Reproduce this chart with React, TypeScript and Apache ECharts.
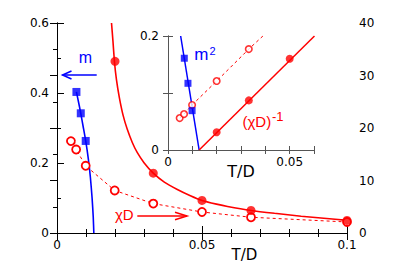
import React, { useEffect, useRef } from "react";
import * as echarts from "echarts";

// ---- main panel data ----
const mT = [0.0067, 0.0082, 0.0099];
const mVal = [0.403, 0.342, 0.263];
const mFitT = [0.0067, 0.0074, 0.0082, 0.009, 0.0099, 0.0108, 0.0115, 0.0121, 0.0125, 0.0127];
const mFitVal = [0.403, 0.375, 0.342, 0.305, 0.263, 0.212, 0.16, 0.1, 0.045, 0];

const chiT = [0.02, 0.0332, 0.05, 0.0669, 0.1];
const chiVal = [32.7, 11.4, 6.2, 4.3, 2.4];
const chiFitT = [
  0.0188, 0.0193, 0.0198, 0.0205, 0.0215, 0.0228, 0.0242, 0.026, 0.0277, 0.03, 0.0332,
  0.037, 0.0415, 0.046, 0.05, 0.055, 0.0588, 0.0669, 0.075, 0.0842, 0.092, 0.1,
];
const chiFitVal = [
  40, 36.5, 32.7, 29.2, 25.8, 22.4, 19.8, 17.2, 15.3, 13.4, 11.4,
  9.7, 8.3, 7.1, 6.2, 5.5, 5.05, 4.3, 3.75, 3.2, 2.8, 2.4,
];

const chiOpenT = [0.0048, 0.0066, 0.0099, 0.0199, 0.0332, 0.05, 0.0669, 0.1];
const chiOpenVal = [17.5, 15.9, 12.8, 8.1, 5.6, 4.0, 3.0, 2.1];

// ---- inset data ----
const m2T = [0.0067, 0.0082, 0.0099];
const m2Val = [0.161, 0.117, 0.069];
const m2FitT = [0.0052, 0.0128];
const m2FitVal = [0.2, 0];

const invT = [0.02, 0.0332, 0.05];
const invVal = [0.031, 0.087, 0.16];
const invFitT = [0.0128, 0.0602];
const invFitVal = [0, 0.2];

const invOpenT = [0.0048, 0.0066, 0.0099, 0.02, 0.0332];
const invOpenVal = [0.056, 0.063, 0.079, 0.121, 0.177];
const invOpenLineT = [0.0048, 0.0066, 0.0099, 0.02, 0.0332, 0.039];
const invOpenLineVal = [0.056, 0.063, 0.079, 0.121, 0.177, 0.2];

// tick labels
const mainXLabels = ["0", "0.05", "0.1"];
const insetXLabels = ["0", "0.05"];
const insetYLabels = ["0", "0.2"];

const RED = "#ff0000";
const BLUE = "#0000ff";
const TICK_FONT = "DejaVu Sans";

const zip = (xs: number[], ys: number[]) => xs.map((x, i) => [x, ys[i]]);

function labelPicker(list: string[]) {
  return (v: number) => {
    for (const s of list) {
      if (Math.abs(v - parseFloat(s)) < 1e-6) return s;
    }
    return "";
  };
}

export default function App() {
  const ref = useRef<HTMLDivElement>(null);

  useEffect(() => {
    if (!ref.current) return;
    const chart = echarts.init(ref.current, undefined, { renderer: "svg" });

    const axisBase = (color: string) => ({
      type: "value" as const,
      axisLine: { show: true, lineStyle: { color, width: 1 } },
      splitLine: { show: false },
      minorSplitLine: { show: false },
      axisLabel: { fontFamily: TICK_FONT, fontSize: 12, color: "#000" },
    });

    const option: any = {
      animation: false,
      backgroundColor: "#fff",
      grid: [
        { left: 57, top: 23, right: 68, bottom: 44, show: false },
        {
          left: 168,
          top: 36,
          right: 101,
          bottom: 127,
          show: true,
          backgroundColor: "#fff",
          borderWidth: 0,
          z: 5,
        },
      ],
      xAxis: [
        {
          ...axisBase("#000"),
          gridIndex: 0,
          position: "bottom",
          min: 0,
          max: 0.1,
          interval: 0.05,
          axisTick: { show: true, inside: true, length: 7, lineStyle: { color: "#000" } },
          minorTick: { show: true, splitNumber: 5, length: 4, lineStyle: { color: "#000" } },
          axisLabel: {
            fontFamily: TICK_FONT,
            fontSize: 12,
            color: "#000",
            margin: 6,
            formatter: labelPicker(mainXLabels),
          },
        },
        {
          ...axisBase("#000"),
          gridIndex: 0,
          position: "top",
          min: 0,
          max: 0.1,
          interval: 0.05,
          axisTick: { show: true, inside: true, length: 7, lineStyle: { color: "#000" } },
          minorTick: { show: true, splitNumber: 5, length: 4, lineStyle: { color: "#000" } },
          axisLabel: { show: false },
        },
        {
          ...axisBase("#555"),
          gridIndex: 1,
          position: "bottom",
          min: 0,
          max: 0.06,
          interval: 0.01,
          z: 6,
          axisTick: { show: true, inside: true, length: 4, lineStyle: { color: "#555" } },
          axisLabel: {
            fontFamily: TICK_FONT,
            fontSize: 12,
            color: "#000",
            margin: 6,
            formatter: labelPicker(insetXLabels),
          },
        },
        {
          ...axisBase("#555"),
          gridIndex: 1,
          position: "top",
          min: 0,
          max: 0.06,
          interval: 0.01,
          z: 6,
          axisTick: { show: true, inside: true, length: 4, lineStyle: { color: "#555" } },
          axisLabel: { show: false },
        },
      ],
      yAxis: [
        {
          ...axisBase("#000"),
          gridIndex: 0,
          position: "left",
          min: 0,
          max: 0.6,
          interval: 0.2,
          axisTick: { show: true, inside: true, length: 7, lineStyle: { color: "#000" } },
          minorTick: { show: true, splitNumber: 2, length: 4, lineStyle: { color: "#000" } },
          axisLabel: { fontFamily: TICK_FONT, fontSize: 12, color: "#000", margin: 8 },
        },
        {
          ...axisBase("#000"),
          gridIndex: 0,
          position: "right",
          min: 0,
          max: 40,
          interval: 10,
          axisTick: { show: true, inside: true, length: 7, lineStyle: { color: "#000" } },
          minorTick: { show: true, splitNumber: 2, length: 4, lineStyle: { color: "#000" } },
          axisLabel: { fontFamily: TICK_FONT, fontSize: 12, color: "#000", margin: 12 },
        },
        {
          ...axisBase("#555"),
          gridIndex: 1,
          position: "left",
          min: 0,
          max: 0.2,
          interval: 0.1,
          z: 6,
          axisTick: { show: true, inside: true, length: 5, lineStyle: { color: "#555" } },
          axisLabel: {
            fontFamily: TICK_FONT,
            fontSize: 12,
            color: "#000",
            margin: 9,
            formatter: labelPicker(insetYLabels),
          },
        },
        {
          ...axisBase("#555"),
          gridIndex: 1,
          position: "right",
          min: 0,
          max: 0.2,
          interval: 0.1,
          z: 6,
          axisTick: { show: true, inside: true, length: 5, lineStyle: { color: "#555" } },
          axisLabel: { show: false },
        },
      ],
      series: [
        // ---------- main ----------
        {
          name: "m fit",
          type: "line",
          xAxisIndex: 0,
          yAxisIndex: 0,
          data: zip(mFitT, mFitVal),
          smooth: 0.2,
          showSymbol: false,
          lineStyle: { color: BLUE, width: 1.6 },
          z: 2,
        },
        {
          name: "m",
          type: "scatter",
          xAxisIndex: 0,
          yAxisIndex: 0,
          data: zip(mT, mVal),
          symbol: "rect",
          symbolSize: 8,
          itemStyle: { color: BLUE },
          z: 4,
        },
        {
          name: "chi fit",
          type: "line",
          xAxisIndex: 0,
          yAxisIndex: 1,
          data: zip(chiFitT, chiFitVal),
          smooth: 0.15,
          showSymbol: false,
          lineStyle: { color: RED, width: 1.6 },
          z: 2,
        },
        {
          name: "chi open",
          type: "line",
          xAxisIndex: 0,
          yAxisIndex: 1,
          data: zip(chiOpenT, chiOpenVal),
          symbol: "circle",
          symbolSize: 8,
          showSymbol: true,
          itemStyle: { color: "#fff", borderColor: RED, borderWidth: 1.8 },
          lineStyle: { color: RED, width: 1, type: [3, 3] },
          z: 3,
        },
        {
          name: "chi",
          type: "scatter",
          xAxisIndex: 0,
          yAxisIndex: 1,
          data: zip(chiT, chiVal),
          symbol: "circle",
          symbolSize: 9,
          itemStyle: { color: RED },
          z: 4,
        },
        // ---------- inset ----------
        {
          name: "m2 fit",
          type: "line",
          xAxisIndex: 2,
          yAxisIndex: 2,
          data: zip(m2FitT, m2FitVal),
          showSymbol: false,
          lineStyle: { color: BLUE, width: 1.5 },
          z: 7,
        },
        {
          name: "inv fit",
          type: "line",
          xAxisIndex: 2,
          yAxisIndex: 2,
          data: zip(invFitT, invFitVal),
          showSymbol: false,
          lineStyle: { color: RED, width: 1.5 },
          z: 7,
        },
        {
          name: "inv open line",
          type: "line",
          xAxisIndex: 2,
          yAxisIndex: 2,
          data: zip(invOpenLineT, invOpenLineVal),
          showSymbol: false,
          lineStyle: { color: RED, width: 1, type: [3, 3] },
          z: 7,
        },
        {
          name: "inv open",
          type: "scatter",
          xAxisIndex: 2,
          yAxisIndex: 2,
          data: zip(invOpenT, invOpenVal),
          symbol: "circle",
          symbolSize: 6.5,
          itemStyle: { color: "#fff", borderColor: RED, borderWidth: 1.6 },
          z: 8,
        },
        {
          name: "m2",
          type: "scatter",
          xAxisIndex: 2,
          yAxisIndex: 2,
          data: zip(m2T, m2Val),
          symbol: "rect",
          symbolSize: 7,
          itemStyle: { color: BLUE },
          z: 9,
        },
        {
          name: "inv",
          type: "scatter",
          xAxisIndex: 2,
          yAxisIndex: 2,
          data: zip(invT, invVal),
          symbol: "circle",
          symbolSize: 8,
          itemStyle: { color: RED },
          z: 9,
        },
      ],
      graphic: [
        // axis titles
        {
          type: "text",
          x: 244.5,
          y: 255,
          style: {
            text: "T/D",
            fontFamily: TICK_FONT,
            fontSize: 15,
            fill: "#000",
            align: "center",
            verticalAlign: "middle",
          },
        },
        {
          type: "text",
          x: 241,
          y: 171.7,
          style: {
            text: "T/D",
            fontFamily: TICK_FONT,
            fontSize: 16,
            fill: "#000",
            align: "center",
            verticalAlign: "middle",
          },
        },
        // "m" annotation
        {
          type: "text",
          x: 85.3,
          y: 57.8,
          style: {
            text: "m",
            fontFamily: "Liberation Sans",
            fontSize: 16,
            fill: BLUE,
            align: "center",
            verticalAlign: "middle",
          },
        },
        {
          type: "line",
          shape: { x1: 96.7, y1: 75, x2: 62.5, y2: 75 },
          style: { stroke: BLUE, lineWidth: 1.5 },
        },
        {
          type: "polyline",
          shape: { points: [[71.5, 71], [62.5, 75], [71.5, 79]] },
          style: { stroke: BLUE, lineWidth: 1.5, fill: null },
        },
        // "χD" annotation
        {
          type: "text",
          x: 115,
          y: 214.1,
          style: {
            text: "χD",
            fontFamily: "Liberation Sans",
            fontSize: 15,
            fill: RED,
            align: "left",
            verticalAlign: "middle",
          },
        },
        {
          type: "line",
          shape: { x1: 137.3, y1: 216, x2: 187, y2: 216 },
          style: { stroke: RED, lineWidth: 1.5 },
        },
        {
          type: "polyline",
          shape: { points: [[175, 212.3], [187, 216], [175, 219.7]] },
          style: { stroke: RED, lineWidth: 1.5, fill: null },
        },
        // inset labels
        {
          type: "text",
          x: 194.3,
          y: 54.1,
          z: 20,
          style: {
            text: "m",
            fontFamily: "Liberation Sans",
            fontSize: 17,
            fill: BLUE,
            align: "left",
            verticalAlign: "middle",
          },
        },
        {
          type: "text",
          x: 209.5,
          y: 50.5,
          z: 20,
          style: {
            text: "2",
            fontFamily: "Liberation Sans",
            fontSize: 11,
            fill: BLUE,
            align: "left",
            verticalAlign: "middle",
          },
        },
        {
          type: "text",
          x: 242.5,
          y: 121.8,
          z: 20,
          style: {
            text: "(χD)",
            fontFamily: "Liberation Sans",
            fontSize: 15,
            fill: RED,
            align: "left",
            verticalAlign: "middle",
          },
        },
        {
          type: "text",
          x: 272,
          y: 116.5,
          z: 20,
          style: {
            text: "-1",
            fontFamily: "Liberation Sans",
            fontSize: 13,
            fill: RED,
            align: "left",
            verticalAlign: "middle",
          },
        },
      ],
    };

    chart.setOption(option);
    return () => chart.dispose();
  }, []);

  return (
    <div
      ref={ref}
      style={{
        position: "fixed",
        left: 0,
        top: 0,
        width: 415,
        height: 277,
        background: "#fff",
      }}
    />
  );
}
